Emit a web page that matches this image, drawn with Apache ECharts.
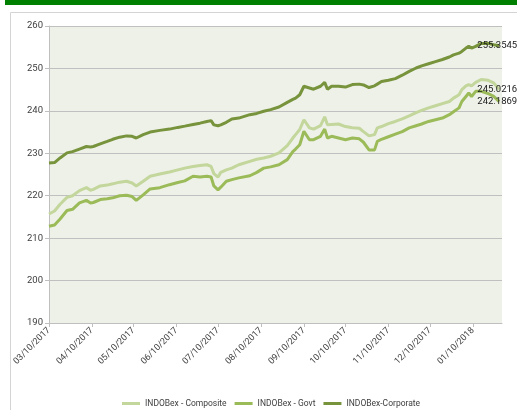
<!DOCTYPE html>
<html>
<head>
<meta charset="utf-8">
<script src="https://cdn.jsdelivr.net/npm/echarts@6/dist/echarts.min.js"></script>
<style>
html,body{margin:0;padding:0;background:#fff;}
#chart{width:517px;height:410px;}
</style>
</head>
<body>
<div id="chart"></div>
<script>
const dates = ['2017-03-10','2017-03-14','2017-03-18','2017-03-23','2017-03-27','2017-04-01','2017-04-06','2017-04-09','2017-04-11','2017-04-16',
'2017-04-21','2017-04-25','2017-04-30','2017-05-05','2017-05-09','2017-05-12','2017-05-17','2017-05-22','2017-05-29','2017-06-05',
'2017-06-11','2017-06-16','2017-06-22','2017-06-27','2017-07-02','2017-07-05','2017-07-07','2017-07-10','2017-07-12','2017-07-16',
'2017-07-20','2017-07-25','2017-08-02','2017-08-07','2017-08-12','2017-08-17','2017-08-23','2017-08-29','2017-09-02','2017-09-04',
'2017-09-07','2017-09-10','2017-09-14','2017-09-17','2017-09-22','2017-09-25','2017-09-27','2017-09-30','2017-10-05','2017-10-10',
'2017-10-15','2017-10-20','2017-10-23','2017-10-27','2017-10-31','2017-11-02','2017-11-05','2017-11-10','2017-11-15','2017-11-20',
'2017-11-25','2017-11-30','2017-12-04','2017-12-09','2017-12-14','2017-12-19','2017-12-24','2017-12-27','2017-12-31','2018-01-02',
'2018-01-05','2018-01-07','2018-01-09','2018-01-12','2018-01-16','2018-01-21','2018-01-25','2018-01-29'];

const corporate = [227.7,227.8,228.9,230.1,230.4,231.0,231.6,231.5,231.6,232.2,
232.8,233.3,233.8,234.1,234.0,233.6,234.4,235.0,235.4,235.7,
236.1,236.4,236.8,237.1,237.5,237.7,236.7,236.5,236.7,237.3,
238.1,238.3,239.1,239.4,239.9,240.3,240.9,242.0,242.7,243.0,
243.8,245.8,245.4,245.1,245.8,246.7,245.1,245.8,245.8,245.6,
246.2,246.3,246.1,245.5,245.9,246.3,246.9,247.2,247.6,248.4,
249.3,250.1,250.6,251.1,251.6,252.1,252.7,253.2,253.6,254.0,
254.8,255.2,254.8,255.2,255.9,255.9,255.6,255.3545];

const composite = [215.7,216.4,218.0,219.6,220.0,221.2,221.9,221.3,221.5,222.3,
222.5,222.8,223.2,223.4,223.0,222.3,223.4,224.6,225.1,225.6,
226.1,226.5,226.9,227.1,227.3,226.9,225.2,224.4,225.5,226.1,
226.5,227.3,228.1,228.6,228.9,229.3,230.1,231.8,233.6,234.4,
235.6,237.9,236.0,235.7,236.5,238.6,236.7,236.8,236.9,236.3,
236.0,235.9,235.1,234.1,234.4,236.0,236.3,237.0,237.5,238.1,
238.8,239.6,240.1,240.7,241.2,241.7,242.2,243.0,243.8,245.0,
245.9,246.2,245.9,246.7,247.4,247.2,246.6,245.0216];

const govt = [212.8,213.1,214.5,216.5,216.8,218.3,218.9,218.3,218.4,219.1,
219.3,219.5,220.0,220.1,219.8,218.9,220.2,221.6,221.9,222.6,
223.1,223.5,224.6,224.4,224.6,224.4,222.3,221.4,222.0,223.4,
223.8,224.2,224.7,225.5,226.5,226.8,227.3,228.5,230.4,231.0,
232.0,235.2,233.2,233.2,234.0,235.7,233.6,234.0,233.6,233.2,
233.6,233.4,232.6,230.8,230.8,232.8,233.3,233.9,234.5,235.1,
236.0,236.5,236.9,237.5,237.9,238.3,239.1,239.8,240.7,242.2,
243.4,244.2,243.4,244.6,244.6,244.1,243.4,242.1869];

const tickDates = ['2017-03-10','2017-04-10','2017-05-10','2017-06-10','2017-07-10','2017-08-10',
'2017-09-10','2017-10-10','2017-11-10','2017-12-10','2018-01-10'];
const axisStart = '2017-03-10';
const axisEnd = '2018-01-31';

const seriesNames = ['INDOBex - Composite','INDOBex - Govt','INDOBex-Corporate'];
const colors = ['#c3d69b','#9bbb59','#77933c'];

const DAY = 86400000;
function utc(s){ const p = s.split('-').map(Number); return Date.UTC(p[0], p[1]-1, p[2]); }
const t0 = utc(axisStart);
function dayIdx(s){ return Math.round((utc(s) - t0) / DAY); }
function fmt(v){ const d = new Date(t0 + Math.round(v) * DAY); const p = n => (n<10?'0':'')+n;
  return p(d.getUTCMonth()+1)+'/'+p(d.getUTCDate())+'/'+d.getUTCFullYear(); }

const FONT = 'Roboto, sans-serif';

function mk(name, vals, color){
  const data = dates.map((d,i)=>[dayIdx(d), vals[i]]);
  const last = data[data.length-1];
  const lastText = String(vals[vals.length-1]);
  return {
    name: name, type: 'line', data: data, showSymbol: false, symbol: 'none',
    lineStyle: {color: color, width: 3}, itemStyle: {color: color},
    emphasis: {disabled: true}, animation: false,
    markPoint: {
      symbol: 'circle', symbolSize: 1, itemStyle: {color: 'rgba(0,0,0,0)'},
      data: [{coord: last}],
      label: {show: true, position: 'inside', offset: [-2, 0], color: '#1a1a1a', fontSize: 9.5, fontFamily: FONT,
        formatter: () => lastText}
    }
  };
}

const ticks = tickDates.map(dayIdx);
const chart = echarts.init(document.getElementById('chart'), null, {renderer: 'canvas'});
chart.setOption({
  animation: false,
  backgroundColor: '#ffffff',
  graphic: [
    {type: 'rect', shape: {x: 5, y: 0, width: 512, height: 5}, style: {fill: '#008000'}, silent: true},
    {type: 'rect', shape: {x: 10.5, y: 12.5, width: 520, height: 420}, style: {fill: 'none', stroke: '#d4d4d4', lineWidth: 1}, silent: true}
  ],
  grid: {left: 49, right: 15, top: 26, bottom: 87, show: true, backgroundColor: '#eef1e8', borderWidth: 0},
  legend: {
    data: seriesNames, top: 394, left: 117, icon: 'rect', itemWidth: 18, itemHeight: 3, itemGap: 8,
    textStyle: {fontSize: 8.5, color: '#404040', fontFamily: FONT}
  },
  xAxis: {
    type: 'value', min: 0, max: dayIdx(axisEnd),
    axisLine: {show: true, onZero: false, lineStyle: {color: '#bfbfbf', width: 1}},
    axisTick: {show: true, length: 4, lineStyle: {color: '#bfbfbf'}, customValues: ticks},
    axisLabel: {customValues: ticks, formatter: v => fmt(v), rotate: 45, fontSize: 9,
      color: '#404040', fontFamily: FONT, margin: 6, hideOverlap: false},
    splitLine: {show: false}
  },
  yAxis: {
    type: 'value', min: 190, max: 260, interval: 10,
    axisLine: {show: true, lineStyle: {color: '#bfbfbf', width: 1}},
    axisTick: {show: true, length: 4, lineStyle: {color: '#bfbfbf'}},
    axisLabel: {fontSize: 9.5, color: '#404040', fontFamily: FONT, margin: 6},
    splitLine: {show: true, lineStyle: {color: '#c0c0c0', width: 1}}
  },
  series: [
    mk(seriesNames[0], composite, colors[0]),
    mk(seriesNames[1], govt, colors[1]),
    mk(seriesNames[2], corporate, colors[2])
  ]
});
</script>
</body>
</html>
